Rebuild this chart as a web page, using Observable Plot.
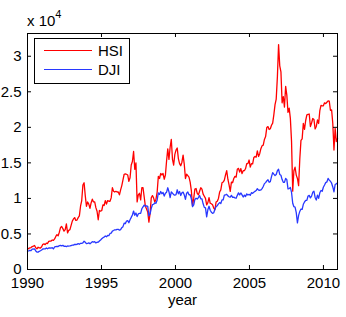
<!DOCTYPE html>
<html><head><meta charset="utf-8">
<script src="https://cdn.jsdelivr.net/npm/d3@7"></script>
<script src="https://cdn.jsdelivr.net/npm/@observablehq/plot@0.6"></script>
<style>body{margin:0;background:#fff} svg{display:block}</style>
</head><body><div id="chart"></div>
<script>
// Monthly samples, Jan 1990 .. Dec 2011 (264 points each)
const firstYear = 1990;
const yearsPerPoint = 0.07966; // horizontal spacing of the samples on the "year" axis

const hsi = [
  2850, 2960, 3030, 3080, 3220, 3280, 3370, 3050, 2900, 3130, 3040, 3025,
  3200, 3550, 3600, 3500, 3700, 3650, 3950, 4000, 4000, 4150, 4100, 4297,
  4650, 4900, 4750, 5250, 5900, 6050, 5750, 5400, 5600, 6400, 5150, 5512,
  5600, 6200, 6800, 7100, 7300, 6900, 6950, 7300, 7550, 8900, 9700, 11888,
  12200, 10400, 8900, 9500, 9200, 8600, 9400, 9900, 9500, 9500, 8700, 8191,
  7000, 8300, 8200, 8300, 9100, 9000, 9700, 9200, 9700, 9600, 9600, 10073,
  11500, 11000, 10900, 11000, 10900, 10900, 10500, 11200, 11800, 12600, 13400, 13451,
  13400, 13300, 12400, 12900, 14700, 15200, 16600, 14100, 15000, 9500, 10500, 10722,
  9800, 11500, 11500, 10200, 8900, 8500, 8100, 6660, 7900, 10100, 10400, 10048,
  9500, 9900, 10900, 13100, 12800, 13500, 13300, 13500, 12700, 13300, 15300, 16962,
  15500, 17200, 18300, 15500, 14700, 16200, 16800, 17100, 15600, 14900, 14600, 15096,
  16100, 14800, 12800, 13400, 13200, 13000, 12300, 11100, 8934, 10000, 11300, 11397,
  10700, 10500, 11000, 11500, 11300, 10600, 10300, 10000, 9100, 9400, 10100, 9321,
  9250, 9100, 8650, 8409, 9500, 9600, 10000, 10900, 11200, 12200, 12300, 12576,
  13300, 13900, 12700, 11900, 11000, 12300, 12200, 12800, 13100, 13000, 14100, 14230,
  13700, 14200, 13500, 13900, 13900, 14200, 14900, 14900, 15400, 14400, 14900, 14876,
  15750, 15900, 15800, 16700, 15900, 16300, 17000, 17400, 17500, 18300, 18700, 19965,
  20100, 19700, 19800, 20300, 20600, 21800, 23200, 23980, 27100, 31638, 28650, 27813,
  23450, 24330, 22850, 25750, 24530, 22100, 22700, 21260, 18020, 11015, 13890, 14387,
  13280, 12810, 11800, 15520, 18170, 18380, 20570, 19720, 20960, 21750, 21820, 21873,
  20120, 20610, 21240, 21110, 19770, 20130, 21030, 20540, 22360, 23100, 23010, 23035,
  23450, 23340, 23530, 23720, 23680, 22400, 22440, 20530, 16800, 19860, 17990, 18434
];

const dji = [
  2590, 2627, 2707, 2657, 2877, 2881, 2905, 2614, 2453, 2442, 2560, 2634,
  2736, 2882, 2914, 2888, 3028, 2907, 3025, 3044, 3017, 3069, 2895, 3169,
  3224, 3267, 3236, 3359, 3397, 3319, 3394, 3257, 3272, 3226, 3306, 3301,
  3310, 3371, 3435, 3428, 3528, 3516, 3540, 3651, 3555, 3681, 3684, 3754,
  3978, 3832, 3636, 3682, 3758, 3625, 3765, 3913, 3843, 3908, 3739, 3834,
  3844, 4011, 4158, 4321, 4465, 4556, 4709, 4611, 4789, 4756, 5075, 5117,
  5395, 5486, 5588, 5569, 5643, 5655, 5529, 5616, 5882, 6029, 6522, 6448,
  6813, 6878, 6584, 7009, 7331, 7673, 8223, 7622, 7945, 7442, 7823, 7908,
  7907, 8546, 8800, 9063, 8900, 8952, 8883, 7539, 7843, 8592, 9117, 9181,
  9359, 9307, 9786, 10789, 10560, 10971, 10655, 10829, 10337, 10729, 10878, 11497,
  10941, 10128, 10922, 10734, 10522, 10448, 10522, 11215, 10651, 10971, 10415, 10787,
  10887, 10495, 9879, 10735, 10912, 10502, 10523, 9950, 8848, 9075, 9852, 10021,
  9920, 10106, 10404, 9946, 9925, 9243, 8737, 8664, 7400, 8397, 8896, 8342,
  8054, 7891, 7992, 8480, 8850, 8985, 9234, 9416, 9275, 9801, 9782, 10454,
  10488, 10584, 10358, 10226, 10188, 10435, 10140, 10174, 10080, 10027, 10428, 10783,
  10490, 10766, 10504, 10193, 10467, 10275, 10641, 10482, 10569, 10440, 10806, 10718,
  10865, 10993, 11109, 11367, 11168, 11150, 11186, 11381, 11679, 12081, 12221, 12463,
  12622, 12269, 12354, 13063, 13628, 13409, 13212, 13358, 13896, 14100, 13372, 13265,
  12650, 12266, 12263, 12820, 12638, 11350, 11378, 11544, 10851, 9325, 8829, 8776,
  8001, 6547, 7609, 8168, 8500, 8447, 9172, 9496, 9712, 9713, 10345, 10428,
  10067, 10325, 10857, 11009, 10137, 9774, 10466, 10015, 10788, 11118, 11006, 11578,
  11892, 12226, 12320, 12811, 12570, 12414, 12143, 11614, 10913, 11955, 12046, 12218
];

const seriesNames = ["HSI", "DJI"];
const seriesColors = ["#ff0000", "#2838ff"];
const xTicks = [1990, 1995, 2000, 2005, 2010];
const yTicks = [0, 5000, 10000, 15000, 20000, 25000, 30000];
const xLabel = "year";
const yExponent = "4";

const W = 346, H = 317, ML = 27, MR = 9, MT = 33, MB = 48;
const FW = W - ML - MR, FH = H - MT - MB;
const font = "'Liberation Sans', Arial, Helvetica, sans-serif";

const plot = Plot.plot({
  width: W, height: H,
  marginLeft: ML, marginRight: MR, marginTop: MT, marginBottom: MB,
  style: {fontFamily: font, fontSize: "15px", background: "white", color: "black", overflow: "visible"},
  x: {domain: [1990, 2010.95]},
  y: {domain: [0, 33200]},
  marks: [
    Plot.line(hsi, {x: (d, i) => firstYear + i * yearsPerPoint, y: d => d, stroke: seriesColors[0], strokeWidth: 1.3}),
    Plot.line(dji, {x: (d, i) => firstYear + i * yearsPerPoint, y: d => d, stroke: seriesColors[1], strokeWidth: 1.3}),
    Plot.tickX(xTicks, {x: d => d, insetTop: FH - 4, stroke: "black"}),
    Plot.tickX(xTicks, {x: d => d, insetBottom: FH - 4, stroke: "black"}),
    Plot.tickY(yTicks, {y: d => d, insetRight: FW - 4, stroke: "black"}),
    Plot.tickY(yTicks, {y: d => d, insetLeft: FW - 4, stroke: "black"}),
    Plot.frame({stroke: "black"}),
    Plot.axisX(xTicks, {tickSize: 0, tickPadding: 8, label: null, tickFormat: d => String(d)}),
    Plot.axisY(yTicks, {tickSize: 0, tickPadding: 6, label: null, tickFormat: d => String(d / 10000)}),
    Plot.text([xLabel], {frameAnchor: "bottom", dy: 31, lineAnchor: "middle", fontSize: 15})
  ]
});

const svg = d3.select(plot);
// exponent label
const ex = svg.append("text").attr("x", 27).attr("y", 26).attr("text-anchor", "start")
  .attr("font-family", font).attr("font-size", 15).attr("fill", "black");
ex.append("tspan").text("x 10");
ex.append("tspan").attr("dy", -8).attr("font-size", 11).text(yExponent);

// legend
const lg = svg.append("g").attr("text-anchor", "start");
lg.append("rect").attr("x", 34.5).attr("y", 38.5).attr("width", 95).attr("height", 45)
  .attr("fill", "white").attr("stroke", "black");
seriesNames.forEach((name, i) => {
  const y = 50 + i * 19;
  lg.append("line").attr("x1", 44).attr("x2", 92).attr("y1", y + 0.5).attr("y2", y + 0.5)
    .attr("stroke", seriesColors[i]).attr("stroke-width", 1);
  lg.append("text").attr("x", 98).attr("y", y + 5.5).attr("text-anchor", "start")
    .attr("font-family", font).attr("font-size", 15).attr("fill", "black").text(name);
});

document.getElementById("chart").appendChild(plot);
</script>
</body></html>
